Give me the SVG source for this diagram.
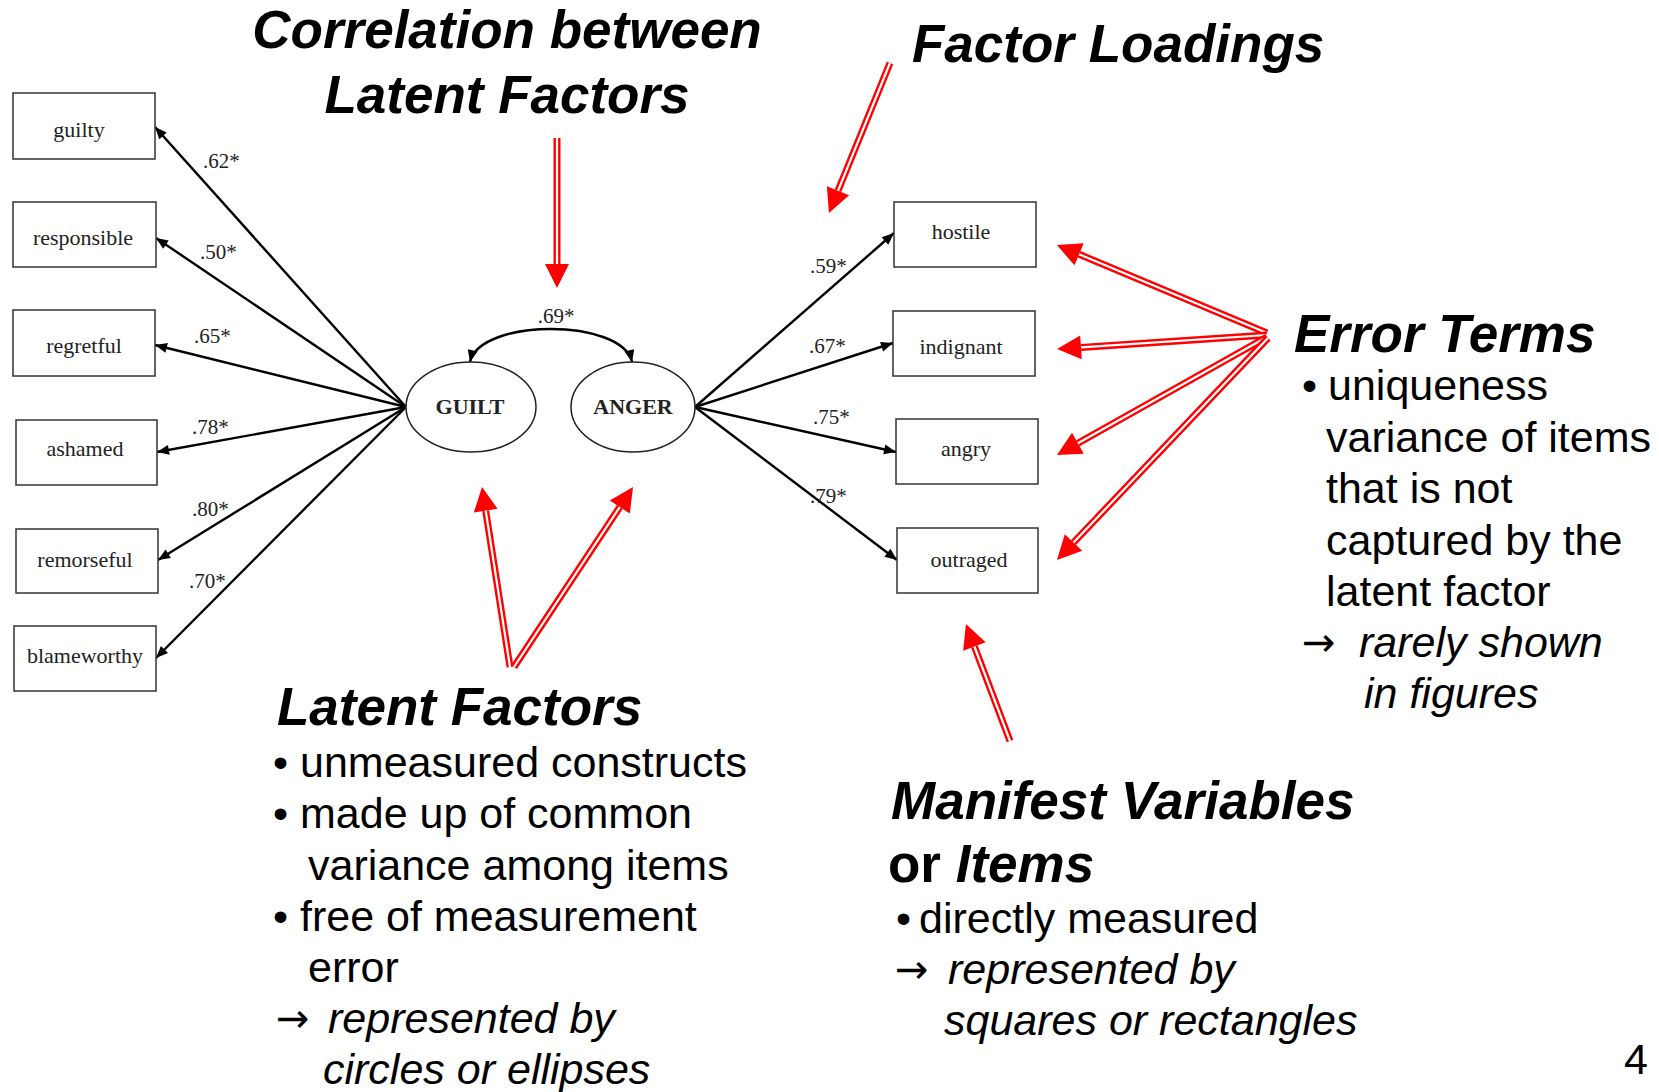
<svg xmlns="http://www.w3.org/2000/svg" width="1659" height="1092" viewBox="0 0 1659 1092">
  <style>
    .item rect { fill: #fff; stroke: #333; stroke-width: 1.5; }
    .item text { font-family: "Liberation Serif", "Times New Roman", serif; font-size: 22px; fill: #222; text-anchor: middle; }
    .latent ellipse { fill: #fff; stroke: #222; stroke-width: 1.5; }
    .latent text { font-family: "Liberation Serif", "Times New Roman", serif; font-size: 22px; font-weight: bold; fill: #222; text-anchor: middle; }
    .path { fill: none; stroke: #000; stroke-width: 2.4; marker-end: url(#tip); }
    .coef { font-family: "Liberation Serif", "Times New Roman", serif; font-size: 21px; fill: #222; }
    .red-out { fill: none; stroke: #ff0000; stroke-width: 7; stroke-linecap: butt; marker-end: url(#redHead); }
    .red-in { fill: none; stroke: #fff; stroke-width: 2.2; stroke-linecap: butt; }
    .head { font-family: "Liberation Sans", Arial, sans-serif; font-size: 53px; font-weight: bold; font-style: italic; fill: #000; }
    .body { font-family: "Liberation Sans", Arial, sans-serif; font-size: 43px; fill: #000; }
    .arr { font-family: "DejaVu Sans", sans-serif; font-size: 40px; fill: #000; }
    .it { font-style: italic; }
  </style>
  <defs>
    <marker id="tip" markerUnits="userSpaceOnUse" markerWidth="14" markerHeight="12" viewBox="0 -6 13 12" refX="12" refY="0" orient="auto-start-reverse">
      <path d="M0,-5 L12,0 L0,5 z" fill="#000"/>
    </marker>
    <marker id="redHead" markerUnits="userSpaceOnUse" markerWidth="26" markerHeight="26" viewBox="0 -13 25 26" refX="0" refY="0" orient="auto">
      <path d="M0,-12 L24,0 L0,12 z" fill="#ff0000"/>
    </marker>
  </defs>

  <rect width="1659" height="1092" fill="#fff"/>

  <!-- loading paths and correlation -->
  <g id="connectors">
    <path class="path" d="M406,407 L155,127"/>
    <path class="path" d="M406,407 L156,238"/>
    <path class="path" d="M406,407 L155,345"/>
    <path class="path" d="M406,407 L157,452"/>
    <path class="path" d="M406,407 L158,560"/>
    <path class="path" d="M406,407 L156,658"/>
    <path class="path" d="M695,407 L894,233"/>
    <path class="path" d="M695,407 L893,343"/>
    <path class="path" d="M695,407 L896,452"/>
    <path class="path" d="M695,407 L897,560"/>
    <path class="path" d="M470,362 C480,318 622,318 632,362" style="marker-start:url(#tip)"/>

    <text class="coef" x="203" y="168">.62*</text>
    <text class="coef" x="200" y="259">.50*</text>
    <text class="coef" x="194" y="343">.65*</text>
    <text class="coef" x="192" y="434">.78*</text>
    <text class="coef" x="192" y="516">.80*</text>
    <text class="coef" x="189" y="588">.70*</text>
    <text class="coef" x="810" y="273">.59*</text>
    <text class="coef" x="809" y="353">.67*</text>
    <text class="coef" x="813" y="424">.75*</text>
    <text class="coef" x="810" y="503">.79*</text>
    <text class="coef" x="556" y="323" text-anchor="middle">.69*</text>
  </g>

  <!-- manifest items -->
  <g id="item-guilty" class="item"><rect x="13" y="93" width="142" height="66"/><text x="79" y="137">guilty</text></g>
  <g id="item-responsible" class="item"><rect x="13" y="202" width="143" height="65"/><text x="83" y="245">responsible</text></g>
  <g id="item-regretful" class="item"><rect x="13" y="310" width="142" height="66"/><text x="84" y="353">regretful</text></g>
  <g id="item-ashamed" class="item"><rect x="16" y="420" width="141" height="65"/><text x="85" y="456">ashamed</text></g>
  <g id="item-remorseful" class="item"><rect x="16" y="529" width="142" height="64"/><text x="85" y="567">remorseful</text></g>
  <g id="item-blameworthy" class="item"><rect x="14" y="626" width="142" height="65"/><text x="85" y="663">blameworthy</text></g>
  <g id="item-hostile" class="item"><rect x="894" y="202" width="142" height="65"/><text x="961" y="239">hostile</text></g>
  <g id="item-indignant" class="item"><rect x="893" y="311" width="142" height="65"/><text x="961" y="354">indignant</text></g>
  <g id="item-angry" class="item"><rect x="896" y="419" width="142" height="65"/><text x="966" y="456">angry</text></g>
  <g id="item-outraged" class="item"><rect x="897" y="528" width="141" height="65"/><text x="969" y="567">outraged</text></g>

  <!-- latent factors -->
  <g id="factor-guilt" class="latent"><ellipse cx="471" cy="407" rx="65" ry="45"/><text x="470" y="414">GUILT</text></g>
  <g id="factor-anger" class="latent"><ellipse cx="633" cy="407" rx="62" ry="45"/><text x="633" y="414">ANGER</text></g>

  <!-- red call-out arrows (double stroke) -->
  <g id="callouts">
    <path class="red-out" d="M557,138 L557,264"/>
    <path class="red-in" d="M557,138 L557,264"/>
    <path class="red-out" d="M890,63 L838,190.8"/>
    <path class="red-in" d="M890,63 L838,190.8"/>
    <path class="red-out" d="M510,667 L485.7,510.7"/>
    <path class="red-in" d="M510,667 L485.7,510.7"/>
    <path class="red-out" d="M514,667 L619.8,507"/>
    <path class="red-in" d="M514,667 L619.8,507"/>
    <path class="red-out" d="M1267,333 L1079.1,254.3"/>
    <path class="red-in" d="M1267,333 L1079.1,254.3"/>
    <path class="red-out" d="M1267,335 L1081,347.4"/>
    <path class="red-in" d="M1267,335 L1081,347.4"/>
    <path class="red-out" d="M1267,337 L1077.9,443.2"/>
    <path class="red-in" d="M1267,337 L1077.9,443.2"/>
    <path class="red-out" d="M1268,338 L1073.5,542.6"/>
    <path class="red-in" d="M1268,338 L1073.5,542.6"/>
    <path class="red-out" d="M1010,741 L974.4,646.5"/>
    <path class="red-in" d="M1010,741 L974.4,646.5"/>
  </g>

  <!-- annotation text -->
  <g id="note-correlation">
    <text class="head" x="507" y="48" text-anchor="middle">Correlation between</text>
    <text class="head" x="507" y="113" text-anchor="middle">Latent Factors</text>
  </g>
  <g id="note-loadings">
    <text class="head" x="912" y="62">Factor Loadings</text>
  </g>
  <g id="note-error">
    <text class="head" x="1294" y="352">Error Terms</text>
    <text class="body" x="1302" y="400">•</text>
    <text class="body" x="1328" y="400">uniqueness</text>
    <text class="body" x="1326" y="452">variance of items</text>
    <text class="body" x="1326" y="503">that is not</text>
    <text class="body" x="1326" y="555">captured by the</text>
    <text class="body" x="1326" y="606">latent factor</text>
    <text class="arr" x="1302" y="656">→</text>
    <text class="body it" x="1359" y="657">rarely shown</text>
    <text class="body it" x="1364" y="708">in figures</text>
  </g>
  <g id="note-latent">
    <text class="head" x="277" y="725">Latent Factors</text>
    <text class="body" x="273" y="777">•</text>
    <text class="body" x="300" y="777">unmeasured constructs</text>
    <text class="body" x="273" y="828">•</text>
    <text class="body" x="300" y="828">made up of common</text>
    <text class="body" x="308" y="880">variance among items</text>
    <text class="body" x="273" y="931">•</text>
    <text class="body" x="300" y="931">free of measurement</text>
    <text class="body" x="308" y="982">error</text>
    <text class="arr" x="276" y="1032">→</text>
    <text class="body it" x="328" y="1033">represented by</text>
    <text class="body it" x="323" y="1084">circles or ellipses</text>
  </g>
  <g id="note-manifest">
    <text class="head" x="891" y="819">Manifest Variables</text>
    <text class="head" x="888" y="882"><tspan font-style="normal">or </tspan>Items</text>
    <text class="body" x="896" y="933">•</text>
    <text class="body" x="919" y="933">directly measured</text>
    <text class="arr" x="895" y="983">→</text>
    <text class="body it" x="948" y="984">represented by</text>
    <text class="body it" x="944" y="1035">squares or rectangles</text>
  </g>
  <text class="body" x="1624" y="1074" font-size="38">4</text>
</svg>
